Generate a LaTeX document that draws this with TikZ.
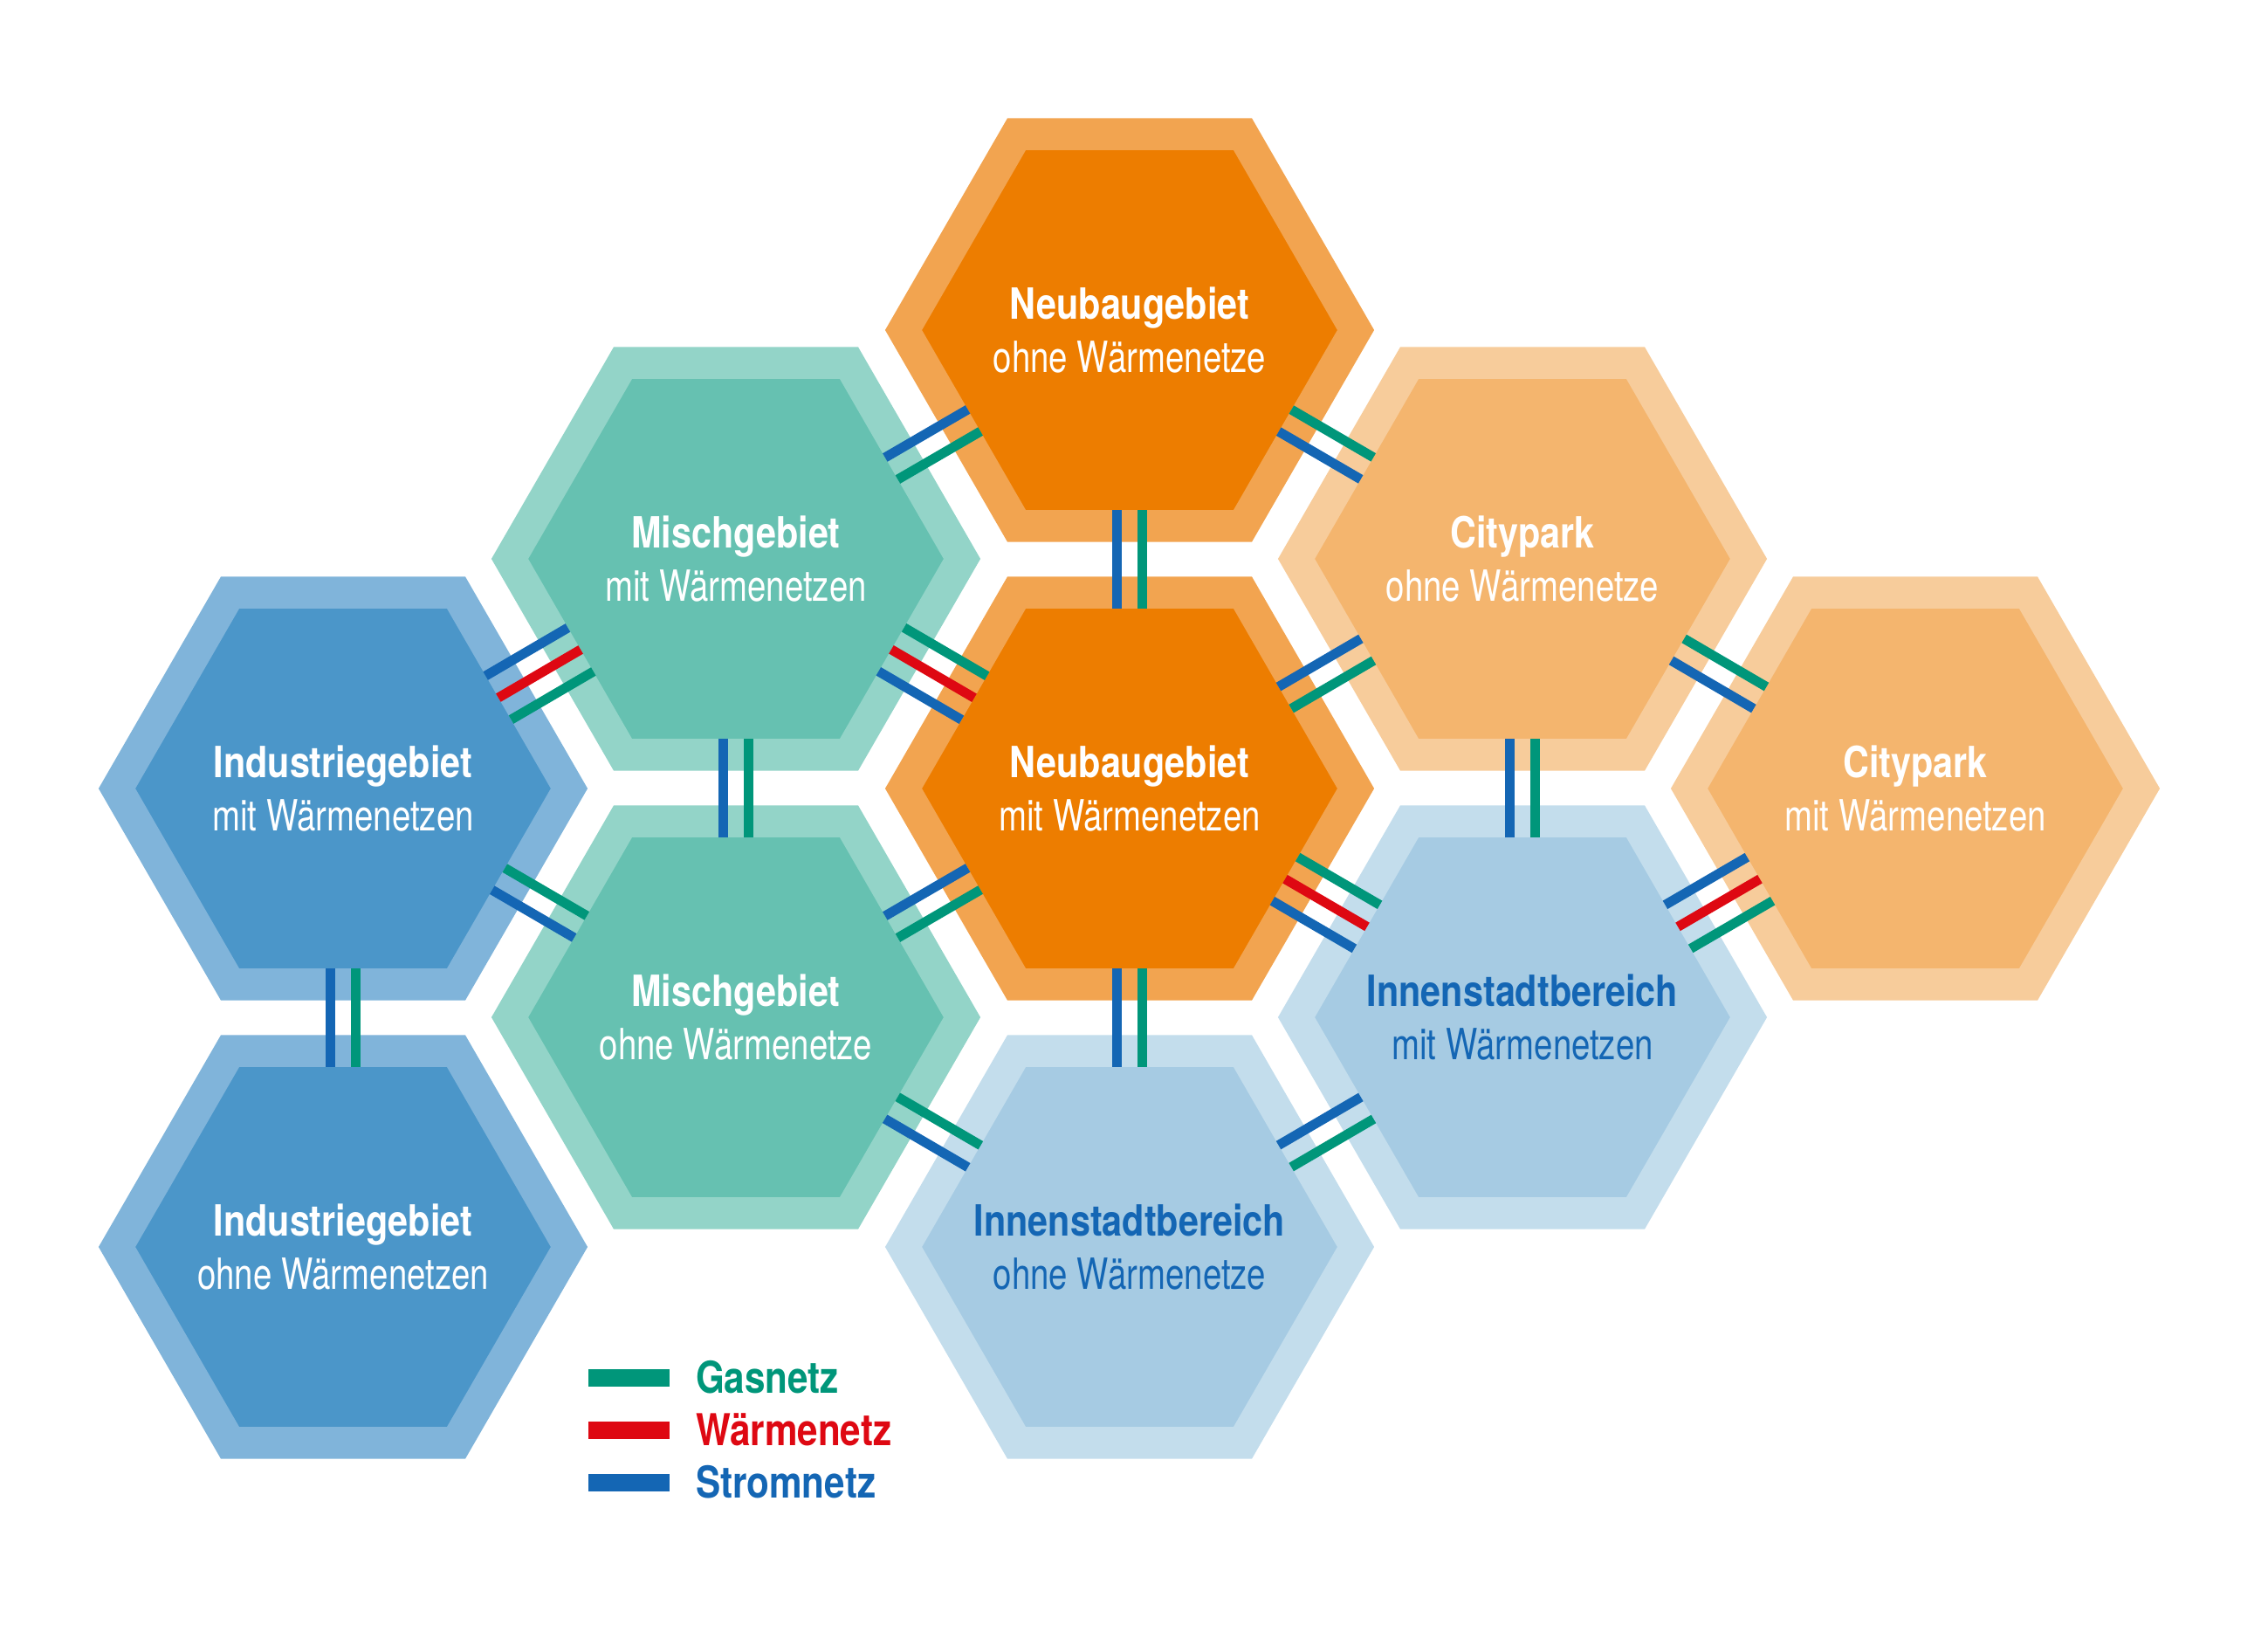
\documentclass[tikz,border=0pt]{standalone}
\usepackage{fontspec}
\setmainfont{TeX Gyre Heros}
\newfontfamily\titlefont{TeX Gyre Heros}[FakeStretch=0.84]
\newfontfamily\subfont{TeX Gyre Heros}[FakeStretch=0.78]
\usepackage{tikz}
\usetikzlibrary{positioning,shapes.geometric,calc}
\usepackage{xcolor}

\definecolor{nbinner}{RGB}{237,125,0}
\definecolor{nbouter}{RGB}{242,164,80}
\definecolor{cpinner}{RGB}{244,181,110}
\definecolor{cpouter}{RGB}{247,204,155}
\definecolor{mginner}{RGB}{102,193,177}
\definecolor{mgouter}{RGB}{147,212,200}
\definecolor{iginner}{RGB}{75,150,201}
\definecolor{igouter}{RGB}{128,180,218}
\definecolor{isinner}{RGB}{166,203,227}
\definecolor{isouter}{RGB}{195,221,236}
\definecolor{gasgreen}{RGB}{0,150,122}
\definecolor{heatred}{RGB}{222,8,18}
\definecolor{powerblue}{RGB}{20,102,180}

\newcommand{\gebiet}[2]{{\titlefont\bfseries #1}\\{\subfont #2}}

\begin{document}
\begin{tikzpicture}[
    hex/.style={regular polygon,regular polygon sides=6,minimum size=5.18cm,line width=0.365cm,inner sep=-0.8cm,outer sep=0pt,align=center,text=white,font=\fontsize{14}{17.2}\selectfont},
    nbhex/.style={hex,fill=nbinner,draw=nbouter},
    cphex/.style={hex,fill=cpinner,draw=cpouter},
    mghex/.style={hex,fill=mginner,draw=mgouter},
    ighex/.style={hex,fill=iginner,draw=igouter},
    ishex/.style={hex,fill=isinner,draw=isouter,text=powerblue},
    netz/.style={line width=0.11cm,shorten <=2.06cm,shorten >=2.06cm},
    keybar/.style={minimum width=0.93cm,minimum height=0.2cm,inner sep=0pt,outer sep=0pt},
    keytext/.style={inner sep=0pt,outer sep=0pt,font=\titlefont\bfseries\fontsize{14.3}{17}\selectfont}
  ]
  \useasboundingbox (0,0) rectangle (25.98,-18.76);
  % Gebiete
  \node[nbhex] (nbo) at (12.94,-3.78) {\gebiet{Neubaugebiet}{ohne Wärmenetze}};
  \node[mghex] (mgm) at (8.43,-6.40) {\gebiet{Mischgebiet}{mit Wärmenetzen}};
  \node[cphex] (cpo) at (17.44,-6.40) {\gebiet{Citypark}{ohne Wärmenetze}};
  \node[ighex] (igm) at (3.93,-9.03) {\gebiet{Industriegebiet}{mit Wärmenetzen}};
  \node[nbhex] (nbm) at (12.94,-9.03) {\gebiet{Neubaugebiet}{mit Wärmenetzen}};
  \node[cphex] (cpm) at (21.94,-9.03) {\gebiet{Citypark}{mit Wärmenetzen}};
  \node[mghex] (mgo) at (8.43,-11.65) {\gebiet{Mischgebiet}{ohne Wärmenetze}};
  \node[ishex] (ism) at (17.44,-11.65) {\gebiet{Innenstadtbereich}{mit Wärmenetzen}};
  \node[ighex] (igo) at (3.93,-14.28) {\gebiet{Industriegebiet}{ohne Wärmenetzen}};
  \node[ishex] (iso) at (12.94,-14.28) {\gebiet{Innenstadtbereich}{ohne Wärmenetze}};
  % Gas- und Stromnetz
  \foreach \a/\b in {nbo/mgm,nbo/cpo,nbo/nbm,cpo/nbm,cpo/cpm,mgm/mgo,cpo/ism,igm/mgo,nbm/mgo,igm/igo,nbm/iso,mgo/iso,ism/iso}{
    \draw[netz,gasgreen] ($(\a.center)!0.145cm!90:(\b.center)$) -- ($(\b.center)!0.145cm!-90:(\a.center)$);
    \draw[netz,powerblue] ($(\a.center)!0.145cm!-90:(\b.center)$) -- ($(\b.center)!0.145cm!90:(\a.center)$);
  }
  % dazu Waermenetz
  \foreach \a/\b in {mgm/igm,mgm/nbm,nbm/ism,cpm/ism}{
    \draw[netz,gasgreen] ($(\a.center)!0.29cm!90:(\b.center)$) -- ($(\b.center)!0.29cm!-90:(\a.center)$);
    \draw[netz,heatred] (\a.center) -- (\b.center);
    \draw[netz,powerblue] ($(\a.center)!0.29cm!-90:(\b.center)$) -- ($(\b.center)!0.29cm!90:(\a.center)$);
  }
  % Legende
  \node[keybar,fill=gasgreen] (kgas) at (7.205,-15.775) {};
  \node[keybar,fill=heatred,below=0.4cm of kgas] (kheat) {};
  \node[keybar,fill=powerblue,below=0.4cm of kheat] (kpower) {};
  \node[keytext,text=gasgreen,right=0.3cm of kgas] (tgas) {Gasnetz};
  \node[keytext,text=heatred,right=0.3cm of kheat] (theat) {Wärmenetz};
  \node[keytext,text=powerblue,right=0.3cm of kpower] (tpower) {Stromnetz};
\end{tikzpicture}
\end{document}
